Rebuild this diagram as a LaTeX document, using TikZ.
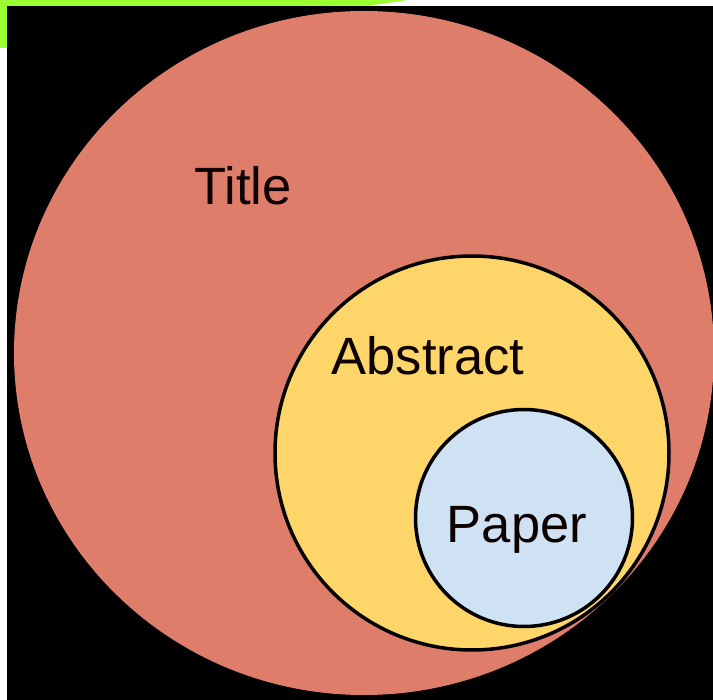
\documentclass[tikz,border=0pt]{standalone}
\usepackage{fontspec}
\setmainfont{Liberation Sans}
\usetikzlibrary{shapes.geometric, positioning}
\definecolor{salmon}{HTML}{DF7D6B}
\definecolor{sunny}{HTML}{FED568}
\definecolor{sky}{HTML}{CFE2F3}
\definecolor{lime}{HTML}{9BFF33}
\tikzset{
  setc/.style={circle, draw=black, line width=3.5pt, inner sep=0pt},
  lbl/.style={font=\fontsize{52.5}{60}\selectfont, text=black!95!red, inner sep=0pt, anchor=base}
}

\begin{document}
\begin{tikzpicture}[x=1pt, y=-1pt]
  \useasboundingbox (0,0) rectangle (713,700);
  % frame
  \fill[white] (0,0) rectangle (713,700);
  \fill[lime] (0,0) -- (407,0) -- (367,6) -- (7,6) -- (7,48) -- (0,48) -- cycle;
  \fill[black] (7,6) rectangle (713,700);
  % sets
  \node[ellipse, fill=salmon, inner sep=0pt, minimum width=700pt, minimum height=684pt] (title) at (364,353) {};
  \node[setc, fill=sunny, minimum size=394pt] (abstract) at (472,453) {};
  \node[setc, fill=sky, minimum size=217pt] (paper) at (524,518) {};
  % labels
  \node[lbl] (titletxt) at (243,205) {Title};
  \node[lbl] (abstracttxt) at (428,375) {Abstract};
  \node[lbl] (papertxt) at (517,543) {Paper};
\end{tikzpicture}
\end{document}
